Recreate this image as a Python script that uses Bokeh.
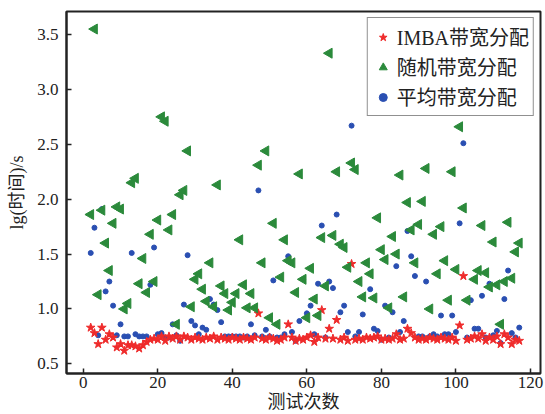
import math
from bokeh.plotting import figure
from bokeh.models import FixedTicker, Legend, LegendItem, Range1d, PrintfTickFormatter
from bokeh.embed import file_html
from bokeh.resources import INLINE

tests = list(range(2, 118))

imba = [0.83, 0.78, 0.68, 0.83, 0.72, 0.77, 0.74, 0.65, 0.68, 0.62,
        0.67, 0.67, 0.66, 0.64, 0.67, 0.70, 0.72, 0.73, 0.72, 0.75,
        0.71, 0.75, 0.73, 0.75, 0.72, 0.75, 0.74, 0.72, 0.74, 0.73,
        0.72, 0.74, 0.73, 0.75, 0.72, 0.74, 0.73, 0.72, 0.74, 0.73,
        0.72, 0.74, 0.73, 0.72, 0.74, 0.96, 0.73, 0.72, 0.74, 0.73,
        0.71, 0.72, 0.74, 0.86, 0.74, 0.71, 0.73, 0.72, 0.74, 0.76,
        0.70, 0.74, 0.99, 0.73, 0.82, 0.73, 0.90, 0.72, 0.74, 0.71,
        1.41, 0.72, 0.73, 0.72, 0.74, 0.73, 0.74, 0.75, 0.72, 0.73,
        0.72, 0.73, 0.77, 0.72, 0.73, 0.82, 0.78, 0.74, 0.72, 0.73,
        0.72, 0.74, 0.73, 0.72, 0.74, 0.73, 0.72, 0.74, 0.71, 0.85,
        1.30, 0.72, 0.73, 0.75, 0.73, 0.77, 0.71, 0.74, 0.72, 0.75,
        0.68, 0.77, 0.74, 0.68, 0.72, 0.71]

random_alloc = [1.86, 3.55, 1.13, 1.90, 1.60, 1.35, 1.78, 1.93, 1.91, 1.00,
                1.05, 2.15, 2.19, 1.23, 1.46, 1.15, 1.68, 1.25, 1.81, 2.75,
                2.71, 1.72, 1.86, 0.86, 2.04, 2.08, 2.44, 1.02, 1.27, 1.32,
                1.18, 1.07, 1.42, 1.02, 2.13, 1.21, 1.14, 0.99, 1.06, 1.14,
                1.63, 1.22, 1.01, 1.14, 1.01, 2.31, 1.42, 2.44, 0.92, 1.78,
                0.86, 1.29, 1.63, 1.44, 1.42, 1.15, 2.23, 1.27, 0.92, 1.37,
                1.09, 0.94, 1.65, 1.21, 3.33, 1.67, 2.25, 1.59, 1.56, 1.38,
                2.33, 2.27, 1.25, 1.11, 1.42, 1.32, 1.10, 1.83, 1.54, 1.45,
                1.01, 1.66, 1.50, 2.22, 1.11, 1.97, 1.72, 1.42, 1.77, 1.98,
                2.28, 1.00, 1.68, 1.32, 1.75, 1.44, 1.08, 2.25, 1.36, 2.66,
                1.92, 1.08, 2.86, 1.27, 1.35, 1.76, 1.33, 1.20, 1.61, 1.22,
                0.86, 1.25, 1.79, 1.28, 1.52, 1.60]

average_alloc = [1.51, 1.74, 0.76, 1.91, 1.16, 1.25, 1.03, 0.76, 0.86, 0.75,
                 0.75, 1.51, 0.77, 0.75, 0.75, 0.75, 1.22, 1.56, 0.77, 0.78,
                 0.74, 0.74, 0.86, 0.76, 0.71, 1.04, 1.49, 0.89, 0.85, 0.77,
                 0.83, 0.81, 1.09, 1.04, 0.99, 0.88, 0.75, 0.75, 0.75, 0.75,
                 0.75, 0.74, 0.75, 0.86, 0.76, 2.08, 0.75, 0.81, 0.75, 1.26,
                 0.74, 0.74, 0.77, 1.48, 0.79, 0.71, 0.89, 1.27, 0.96, 1.03,
                 0.77, 1.23, 1.76, 0.74, 1.25, 1.19, 1.86, 0.97, 1.03, 0.79,
                 2.67, 0.75, 0.79, 0.95, 1.42, 1.18, 0.82, 0.80, 0.72, 1.03,
                 0.74, 0.97, 1.39, 0.79, 0.89, 1.71, 1.48, 1.30, 0.75, 0.75,
                 1.25, 0.75, 0.77, 0.75, 0.94, 0.77, 0.77, 0.94, 0.79, 1.78,
                 2.51, 0.74, 1.08, 0.82, 0.82, 1.12, 0.74, 1.23, 0.76, 0.80,
                 0.69, 1.09, 1.35, 0.78, 0.74, 0.83]

series_labels = ["IMBA带宽分配", "随机带宽分配", "平均带宽分配"]
x_ticks = [0, 20, 40, 60, 80, 100, 120]
y_ticks = [0.5, 1.0, 1.5, 2.0, 2.5, 3.0, 3.5]
x_title = "测试次数"
y_title = "lg(时间)/s"

FONT = "Liberation Serif, Noto Sans CJK SC"

p = figure(width=545, height=414, output_backend="svg", toolbar_location=None,
           x_range=Range1d(-4.5, 122.7), y_range=Range1d(0.412, 3.71),
           min_border_left=66, min_border_right=5, min_border_top=11,
           min_border_bottom=41)

p.background_fill_color = "white"
p.border_fill_color = "white"
p.outline_line_color = "#222222"
p.outline_line_width = 2
p.xgrid.visible = False
p.ygrid.visible = False

for ax in (p.xaxis[0], p.yaxis[0]):
    ax.axis_line_color = "#222222"
    ax.axis_line_width = 2
    ax.major_tick_in = 5
    ax.major_tick_out = 0
    ax.major_tick_line_color = "#222222"
    ax.major_tick_line_width = 1.5
    ax.minor_tick_line_color = None
    ax.major_label_text_font = FONT
    ax.major_label_text_font_size = "17px"
    ax.major_label_text_color = "#222222"
    ax.axis_label_text_font = FONT
    ax.axis_label_text_font_size = "18px"
    ax.axis_label_text_font_style = "normal"
    ax.axis_label_text_color = "#222222"

p.xaxis.ticker = FixedTicker(ticks=x_ticks)
p.yaxis.ticker = FixedTicker(ticks=y_ticks)
p.yaxis.formatter = PrintfTickFormatter(format="%.1f")
p.xaxis.axis_label = x_title
p.yaxis.axis_label = y_title
p.xaxis.major_label_standoff = 3
p.xaxis.axis_label_standoff = 1
p.yaxis.major_label_standoff = 8
p.yaxis.axis_label_standoff = 7

r_avg = p.scatter(tests, average_alloc, marker="circle", size=5,
                  fill_color="#2a4fb2", line_color="#2a4fb2")
r_imba = p.scatter(tests, imba, marker="star", size=9,
                   fill_color="#ef2b2b", line_color="#ef2b2b")
r_rand = p.scatter(tests, random_alloc, marker="triangle", angle=math.pi / 2,
                   size=10, fill_color="#2b8a3b", line_color="#2b8a3b")

legend = Legend(items=[
    LegendItem(label=series_labels[0], renderers=[r_imba]),
    LegendItem(label=series_labels[1], renderers=[r_rand]),
    LegendItem(label=series_labels[2], renderers=[r_avg]),
], location="top_right")
legend.label_text_font = FONT
legend.label_text_font_size = "20px"
legend.label_text_line_height = 0.8
legend.label_text_color = "#222222"
legend.label_height = 20
legend.glyph_height = 20
legend.glyph_width = 22
legend.label_standoff = 3
legend.spacing = 1
legend.padding = 4
legend.margin = 6
legend.border_line_color = "#222222"
legend.border_line_width = 1.5
legend.background_fill_alpha = 1
p.add_layout(legend)

open("out.html", "w").write(file_html(p, INLINE))
